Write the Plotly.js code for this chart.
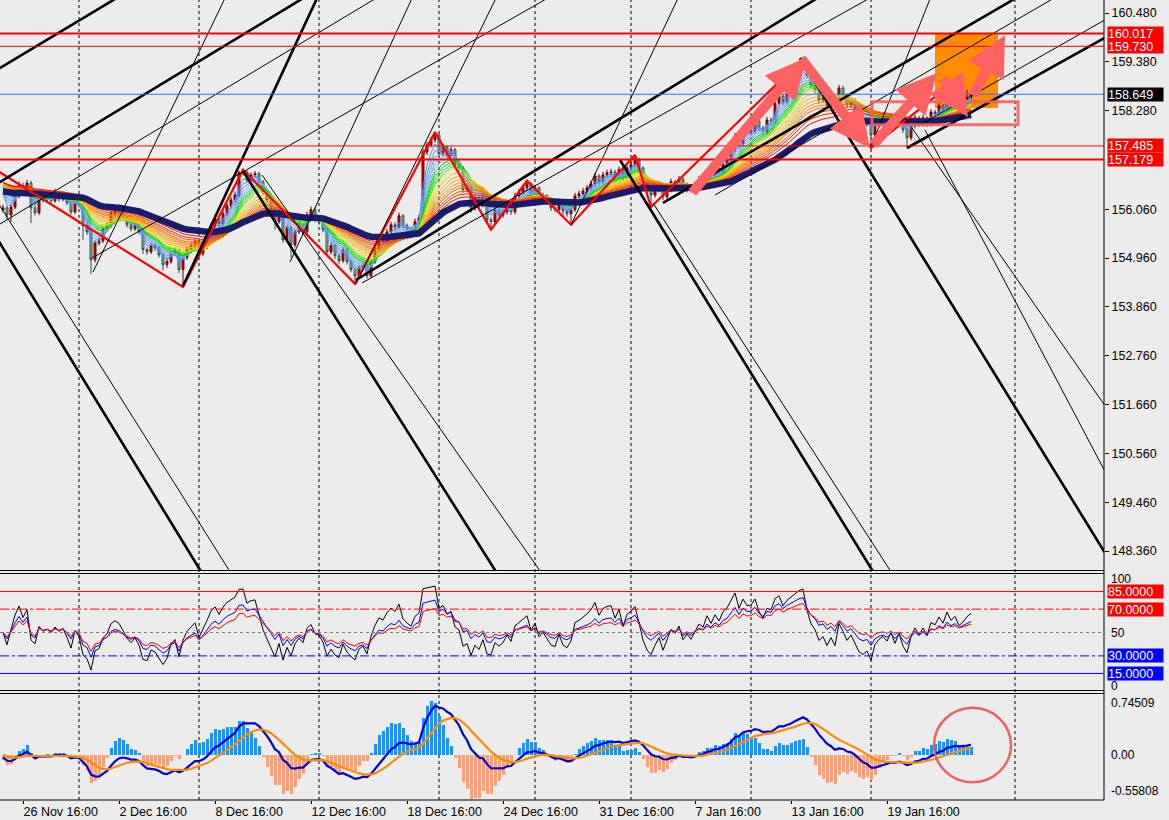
<!DOCTYPE html>
<html>
<head>
<meta charset="utf-8">
<script src="https://cdn.plot.ly/plotly-3.0.1.min.js"></script>
<style>
html,body{margin:0;padding:0;background:#ececec;}
#chart{width:1169px;height:820px;}
</style>
</head>
<body>
<div id="chart"></div>
<script>
// ---------------- DATA (H4 bars, index = bar number) ----------------
const open = [156.05,156.09,155.93,156.11,156.36,156.59,156.45,156.65,156.09,155.98,
156.38,156.27,156.32,156.25,156.36,156.29,156.34,156.20,156.00,156.27,
156.16,155.69,155.55,154.92,155.30,155.35,155.60,155.69,155.96,156.05,
156.00,155.87,155.71,155.62,155.69,155.55,155.15,155.10,155.24,155.19,
155.03,154.81,154.88,155.06,155.12,154.70,154.97,155.15,155.24,155.33,
155.06,155.21,155.42,155.69,155.84,155.73,155.96,156.14,156.27,156.38,
156.88,156.90,156.72,156.83,156.86,156.68,156.45,156.27,156.05,155.78,
156.00,155.37,155.64,155.26,155.55,155.69,155.55,155.93,156.05,155.82,
155.78,155.60,155.10,155.24,155.01,154.90,155.15,154.88,154.70,154.56,
154.74,154.79,154.56,154.88,155.15,155.37,155.33,155.55,155.71,155.66,
155.91,155.69,155.62,155.57,155.78,155.87,157.35,157.51,157.62,157.73,
157.31,157.46,157.28,157.40,157.06,156.99,156.50,156.56,156.09,156.32,
156.16,156.38,155.82,155.78,156.05,155.93,156.00,156.16,156.00,156.36,
156.45,156.54,156.63,156.38,156.54,156.27,156.36,156.23,156.09,156.05,
156.23,156.02,155.96,156.05,156.36,156.41,156.47,156.54,156.63,156.81,
156.68,156.83,156.88,156.90,156.79,156.95,156.77,156.99,157.06,157.17,
156.99,156.72,156.50,156.38,156.50,156.61,156.34,156.50,156.68,156.61,
156.74,156.50,156.59,156.50,156.61,156.74,156.70,156.90,156.81,156.97,
156.90,157.08,157.17,157.40,157.71,157.53,157.89,157.80,157.82,158.05,
157.89,157.80,158.07,158.05,158.45,158.61,158.48,158.70,158.86,159.08,
159.24,159.35,159.08,158.86,158.75,158.52,158.59,158.39,158.52,158.34,
158.79,158.63,158.41,158.52,158.30,158.07,157.98,158.03,157.73,157.98,
158.07,158.12,158.03,158.16,157.96,158.12,157.85,157.67,157.94,158.12,
157.98,158.12,157.98,158.25,158.21,158.39,158.30,158.57,158.45,158.54,
158.41,158.48,158.58];
const high = [156.16,156.14,156.17,156.42,156.68,156.66,156.72,156.70,156.18,156.44,
156.43,156.38,156.37,156.52,156.40,156.39,156.38,156.24,156.33,156.31,
156.20,155.75,155.60,155.36,155.42,155.66,155.76,156.02,156.12,156.10,
156.05,155.91,155.76,155.75,155.74,155.59,155.21,155.30,155.29,155.24,
155.08,154.95,155.12,155.20,155.17,155.03,155.22,155.31,155.40,155.38,
155.28,155.48,155.75,155.92,155.90,156.03,156.20,156.34,156.46,156.93,
156.95,156.93,156.89,156.92,156.90,156.72,156.50,156.31,156.10,156.07,
156.04,155.70,155.68,155.61,155.76,155.73,156.00,156.12,156.09,155.87,
155.83,155.65,155.31,155.28,155.06,155.21,155.19,154.93,154.75,154.81,
154.86,154.83,154.94,155.22,155.44,155.45,155.62,155.78,155.77,155.98,
155.95,155.74,155.67,155.85,155.94,157.42,157.58,157.69,157.80,157.77,
157.53,157.50,157.47,157.44,157.12,157.03,156.63,156.61,156.39,156.37,
156.45,156.42,155.88,156.12,156.10,156.07,156.23,156.20,156.43,156.52,
156.61,156.70,156.67,156.61,156.58,156.43,156.40,156.27,156.14,156.30,
156.27,156.07,156.12,156.43,156.48,156.54,156.61,156.70,156.88,156.85,
156.90,156.95,156.97,156.95,157.02,156.99,157.06,157.13,157.28,157.22,
157.03,156.76,156.55,156.57,156.68,156.65,156.57,156.75,156.72,156.81,
156.78,156.66,156.63,156.68,156.81,156.79,156.97,156.95,157.04,157.02,
157.15,157.24,157.47,157.78,157.76,157.96,157.95,157.89,158.12,158.09,
157.94,158.14,158.13,158.52,158.68,158.66,158.77,158.93,159.15,159.31,
159.46,159.40,159.12,158.92,158.80,158.66,158.64,158.59,158.57,158.86,
158.84,158.67,158.59,158.56,158.34,158.12,158.10,158.08,158.05,158.14,
158.19,158.16,158.23,158.20,158.19,158.16,157.90,158.01,158.19,158.16,
158.19,158.16,158.32,158.30,158.46,158.43,158.81,158.62,158.61,158.58,
158.55,158.75,158.72];
const low = [155.99,155.85,155.78,156.06,156.31,156.38,156.40,155.75,155.92,155.93,
156.21,156.22,156.20,156.21,156.23,156.24,156.15,155.94,155.96,156.10,
155.37,155.48,154.60,154.86,155.24,155.30,155.55,155.64,155.91,155.94,
155.81,155.65,155.56,155.57,155.49,155.05,155.03,155.05,155.12,154.97,
154.68,154.74,154.83,155.00,154.62,154.31,154.92,155.09,155.18,155.00,
155.00,155.16,155.37,155.64,155.66,155.68,155.90,156.08,156.21,156.32,
156.82,156.66,156.67,156.77,156.62,156.39,156.20,155.95,155.60,155.73,
155.30,155.32,154.97,155.20,155.50,155.49,155.50,155.88,155.76,155.71,
155.54,155.02,155.04,154.94,154.83,154.85,154.81,154.64,154.38,154.50,
154.68,154.50,154.51,154.83,155.10,155.26,155.28,155.50,155.58,155.61,
155.62,155.55,155.50,155.52,155.72,155.82,157.28,157.45,157.56,157.24,
157.26,157.21,157.23,156.99,156.92,156.43,156.44,155.98,156.03,156.09,
156.10,155.74,155.60,155.72,155.86,155.87,155.94,155.93,155.95,156.30,
156.39,156.48,156.31,156.32,156.20,156.21,156.17,156.02,155.99,155.99,
155.89,155.89,155.71,156.00,156.30,156.35,156.41,156.48,156.57,156.61,
156.62,156.77,156.82,156.72,156.73,156.70,156.71,156.93,157.00,156.92,
156.65,156.34,156.11,156.32,156.44,156.27,156.28,156.44,156.54,156.55,
156.43,156.44,156.43,156.44,156.55,156.63,156.64,156.74,156.75,156.83,
156.84,157.02,157.11,157.34,157.46,157.47,157.73,157.73,157.76,157.82,
157.73,157.74,157.99,157.99,158.39,158.41,158.42,158.64,158.80,159.02,
159.18,159.01,158.79,158.68,158.45,158.46,158.32,158.33,158.27,158.28,
158.56,158.34,158.35,158.23,158.00,157.91,157.92,157.44,157.67,157.92,
158.01,157.96,157.97,157.89,157.90,157.78,157.44,157.61,157.88,157.91,
157.92,157.91,157.92,158.14,158.15,158.23,158.24,158.38,158.39,158.34,
158.35,158.42,158.52];
const close = [156.09,155.93,156.11,156.36,156.59,156.45,156.65,156.09,155.98,156.38,
156.27,156.32,156.25,156.36,156.29,156.34,156.20,156.00,156.27,156.16,
155.69,155.55,154.92,155.30,155.35,155.60,155.69,155.96,156.05,156.00,
155.87,155.71,155.62,155.69,155.55,155.15,155.10,155.24,155.19,155.03,
154.81,154.88,155.06,155.12,154.70,154.97,155.15,155.24,155.33,155.06,
155.21,155.42,155.69,155.84,155.73,155.96,156.14,156.27,156.38,156.88,
156.90,156.72,156.83,156.86,156.68,156.45,156.27,156.05,155.78,156.00,
155.37,155.64,155.26,155.55,155.69,155.55,155.93,156.05,155.82,155.78,
155.60,155.10,155.24,155.01,154.90,155.15,154.88,154.70,154.56,154.74,
154.79,154.56,154.88,155.15,155.37,155.33,155.55,155.71,155.66,155.91,
155.69,155.62,155.57,155.78,155.87,157.35,157.51,157.62,157.73,157.31,
157.46,157.28,157.40,157.06,156.99,156.50,156.56,156.09,156.32,156.16,
156.38,155.82,155.78,156.05,155.93,156.00,156.16,156.00,156.36,156.45,
156.54,156.63,156.38,156.54,156.27,156.36,156.23,156.09,156.05,156.23,
156.02,155.96,156.05,156.36,156.41,156.47,156.54,156.63,156.81,156.68,
156.83,156.88,156.90,156.79,156.95,156.77,156.99,157.06,157.17,156.99,
156.72,156.50,156.38,156.50,156.61,156.34,156.50,156.68,156.61,156.74,
156.50,156.59,156.50,156.61,156.74,156.70,156.90,156.81,156.97,156.90,
157.08,157.17,157.40,157.71,157.53,157.89,157.80,157.82,158.05,157.89,
157.80,158.07,158.05,158.45,158.61,158.48,158.70,158.86,159.08,159.24,
159.35,159.08,158.86,158.75,158.52,158.59,158.39,158.52,158.34,158.79,
158.63,158.41,158.52,158.30,158.07,157.98,158.03,157.73,157.98,158.07,
158.12,158.03,158.16,157.96,158.12,157.85,157.67,157.94,158.12,157.98,
158.12,157.98,158.25,158.21,158.39,158.30,158.57,158.45,158.54,158.41,
158.48,158.58,158.65];

// Time axis labels (bar index where the label sits)
const timeTickBars = [5,29,53,77,101,125,149,173,197,221];
const timeTickText = ['26 Nov 16:00','2 Dec 16:00','8 Dec 16:00','12 Dec 16:00','18 Dec 16:00','24 Dec 16:00','31 Dec 16:00','7 Jan 16:00','13 Jan 16:00','19 Jan 16:00'];
const separatorBars = [19,49,79,109,133,157,187,217,253];

// Price scale labels
const priceTicks = [160.48,159.38,158.28,156.06,154.96,153.86,152.76,151.66,150.56,149.46,148.36];
const redLevels = [160.017,159.730,157.485,157.179];
const bidLevel = 158.649;

// Oscillator levels
const oscLevels = [85,70,50,30,15];

// Indicator parameters
const ribbonPeriods = [3,4,5,6,7,8,9,10,11,12,14,16,18,20,22,24,27,30,34];
const ribbonSeed = 156.70;
const navyPeriod = 45, navySeed = 156.48;
const rsiPeriods = [7,14,21];
const macdFast = 8, macdSlow = 17, macdSignal = 9, macdSeed = 156.40, histScale = 2.4;

// Zigzag pivots (bar, price)
const zzBars = [-3.25,45,60,88,108,122,131,142,158,162,200,217,236];
const zzPrices = [157.03,154.31,156.95,154.38,157.80,155.60,156.70,155.71,157.28,156.11,159.46,157.44,158.81];

// Trend lines [bar0, price0, bar1, price1]
const thickLines = [
 [-3.25,159.106,30.5,160.931],
 [-3.25,156.538,76.75,160.908],
 [88.25,154.465,205.25,160.908],
 [165,156.200,255,160.908],
 [226,157.439,276.75,159.985],
 [45,154.330,79,160.908],
 [-3.25,155.659,50.5,147.752],
 [60,156.921,124.25,147.752],
 [154.25,157.169,218.5,147.752],
 [199.25,159.466,276.75,148.135]
];
const thinLines = [
 [-3.25,155.592,95,160.908],
 [22.25,154.961,138,160.908],
 [89.75,154.398,218.5,160.908],
 [178,156.380,264.5,160.908],
 [229.25,157.957,276.75,160.390],
 [22.5,154.646,56,160.908],
 [71.75,154.871,102.75,160.908],
 [88.25,154.375,123.75,160.908],
 [142,155.704,169.25,160.908],
 [217,157.461,232.25,160.908],
 [-2,156.312,57.75,147.752],
 [64.75,156.831,135.5,147.752],
 [162.5,156.200,223,147.752],
 [225.5,158.115,276.75,151.469],
 [230.5,157.844,276.75,149.937]
];

// Arrows: tail (bar, price) -> head (bar, price)
const arrowTailBar = [172,199.25,217.25,234.75,242.25];
const arrowTailPrice = [156.40,159.49,157.48,159.04,158.59];
const arrowHeadBar = [200.75,216.75,233.5,241.25,250.5];
const arrowHeadPrice = [159.47,157.44,159.13,158.14,159.98];

// Zones
const orangeZone = [233,248.75,158.34,160.03];
const redBox = [217.25,253.75,157.96,158.48];
const macdCircle = [232.75,252,-0.339,0.575];

// ---------------- INDICATORS ----------------
function ema(src, n, seed){ const a = 2/(n+1); let e = seed; return src.map(v => (e = e + a*(v - e))); }
function rsi(src, n){
  let ag = 0.05, al = 0.05; const out = [50];
  for (let i = 1; i < src.length; i++){
    const ch = src[i] - src[i-1];
    ag = (ag*(n-1) + Math.max(ch,0))/n;
    al = (al*(n-1) + Math.max(-ch,0))/n;
    out.push(100 - 100/(1 + ag/al));
  }
  return out;
}
const bars = close.map((_, i) => i);

const ribbonColors = ['#4a8cff','#5595ff','#609dff','#6ba5ff','#77adff',
 '#00d000','#10dc10','#20e820','#30f030',
 '#ffd400','#ffc400','#ffb400','#ffa400','#ff9400','#ff8400',
 '#ff6a00','#ff5000','#ff3000','#ff1000'];

const traces = [];
ribbonPeriods.forEach((n, k) => traces.push({type:'scatter', mode:'lines', x:bars, y:ema(close, n, ribbonSeed),
  line:{color:ribbonColors[k], width:1}, xaxis:'x', yaxis:'y', hoverinfo:'skip'}));
traces.push({type:'scatter', mode:'lines', x:bars, y:ema(close, navyPeriod, navySeed),
  line:{color:'#1b1b6b', width:6.5}, xaxis:'x', yaxis:'y', hoverinfo:'skip'});
traces.push({type:'candlestick', x:bars, open:open, high:high, low:low, close:close,
  increasing:{line:{color:'#6a0000', width:1}, fillcolor:'#d40000'},
  decreasing:{line:{color:'#2f4f4f', width:1}, fillcolor:'#96c596'},
  whiskerwidth:0, xaxis:'x', yaxis:'y', hoverinfo:'skip'});
traces.push({type:'scatter', mode:'lines', x:zzBars, y:zzPrices, line:{color:'#ff0000', width:2.2}, xaxis:'x', yaxis:'y', hoverinfo:'skip'});
function segs(list){ const x=[], y=[]; list.forEach(s => { x.push(s[0], s[2], null); y.push(s[1], s[3], null); }); return {x, y}; }
const th = segs(thinLines), tk = segs(thickLines);
traces.push({type:'scatter', mode:'lines', x:th.x, y:th.y, line:{color:'#000', width:1}, xaxis:'x', yaxis:'y', hoverinfo:'skip'});
traces.push({type:'scatter', mode:'lines', x:tk.x, y:tk.y, line:{color:'#000', width:2.6}, xaxis:'x', yaxis:'y', hoverinfo:'skip'});

// oscillator
const rsiColors = ['#000000','#0000ff','#ff0000'];
rsiPeriods.forEach((n, k) => traces.push({type:'scatter', mode:'lines', x:bars, y:rsi(close, n),
  line:{color:rsiColors[k], width:1}, xaxis:'x', yaxis:'y2', hoverinfo:'skip'}));

// MACD
const fastE = ema(close, macdFast, macdSeed), slowE = ema(close, macdSlow, macdSeed);
const macd = fastE.map((v, i) => v - slowE[i]);
const sig = ema(macd, macdSignal, 0);
const hist = macd.map((v, i) => histScale*(v - sig[i]));
traces.push({type:'bar', x:bars, y:hist, width:0.75, marker:{color:hist.map(v => v >= 0 ? '#1e90ff' : '#ffa07a'), line:{width:0}},
  xaxis:'x', yaxis:'y3', hoverinfo:'skip'});
traces.push({type:'scatter', mode:'lines', x:bars, y:macd, line:{color:'#0000cd', width:2.2}, xaxis:'x', yaxis:'y3', hoverinfo:'skip'});
traces.push({type:'scatter', mode:'lines', x:bars, y:sig, line:{color:'#ff8c00', width:2.2}, xaxis:'x', yaxis:'y3', hoverinfo:'skip'});

// ---------------- SHAPES ----------------
const shapes = [];
shapes.push({type:'rect', xref:'x', yref:'y', x0:orangeZone[0], x1:orangeZone[1], y0:orangeZone[2], y1:orangeZone[3],
  fillcolor:'#ff8c00', line:{width:0}, layer:'below'});
separatorBars.forEach(b => shapes.push({type:'line', xref:'x', yref:'paper', x0:b, x1:b, y0:0, y1:1,
  line:{color:'#000', width:1, dash:'3px,3px'}, layer:'below'}));
const redW = [2,1,1,2];
redLevels.forEach((p, k) => shapes.push({type:'line', xref:'paper', yref:'y', x0:0, x1:1, y0:p, y1:p, line:{color:'#ff0000', width:redW[k]}}));
shapes.push({type:'line', xref:'paper', yref:'y', x0:0, x1:1, y0:bidLevel, y1:bidLevel, line:{color:'#3b6cf0', width:1}});
shapes.push({type:'rect', xref:'x', yref:'y', x0:redBox[0], x1:redBox[1], y0:redBox[2], y1:redBox[3],
  line:{color:'rgba(245,95,95,0.9)', width:3}, fillcolor:'rgba(0,0,0,0)'});
const oscStyle = [
 {color:'#ff0000', dash:'solid'}, {color:'#ff0000', dash:'dashdot'}, {color:'#7a7a7a', dash:'3px,3px'},
 {color:'#0000ff', dash:'dashdot'}, {color:'#0000ff', dash:'solid'}];
oscLevels.forEach((v, k) => shapes.push({type:'line', xref:'paper', yref:'y2', x0:0, x1:1, y0:v, y1:v,
  line:{color:oscStyle[k].color, width:1, dash:oscStyle[k].dash}}));
shapes.push({type:'circle', xref:'x', yref:'y3', x0:macdCircle[0], x1:macdCircle[1], y0:macdCircle[2], y1:macdCircle[3],
  line:{color:'rgba(235,85,85,0.9)', width:2.5}});
// frame lines
[0.286875,0.283125,0.136875,0.133125].forEach(p => shapes.push({type:'line', xref:'paper', yref:'paper', x0:0, x1:1, y0:p, y1:p, line:{color:'#000', width:1}}));
shapes.push({type:'line', xref:'paper', yref:'paper', x0:1, x1:1, y0:0, y1:1, line:{color:'#000', width:1}});
shapes.push({type:'line', xref:'paper', yref:'paper', x0:0, x1:1, y0:0, y1:0, line:{color:'#000', width:1}});

// ---------------- ANNOTATIONS ----------------
const FONT = 'Liberation Sans, Arial, sans-serif';
const ann = [];
for (let k = 0; k < arrowTailBar.length; k++){
  ann.push({x:arrowHeadBar[k], y:arrowHeadPrice[k], ax:arrowTailBar[k], ay:arrowTailPrice[k], xref:'x', yref:'y', axref:'x', ayref:'y',
    text:'', showarrow:true, arrowhead:2, arrowsize:0.8, arrowwidth:10, arrowcolor:'#ff6262', standoff:0, startstandoff:0});
}
function tag(text, y, yref, bg, fg){
  return {text:text, x:1, xref:'paper', xanchor:'left', xshift:3, y:y, yref:yref, yanchor:'middle', showarrow:false,
    bgcolor:bg, font:{family:FONT, size:12.5, color:fg}, borderpad:0, width:55, height:13, align:'left'};
}
redLevels.forEach(p => ann.push(tag(p.toFixed(3), p, 'y', '#ff0000', '#ffffff')));
ann.push(tag(bidLevel.toFixed(3), bidLevel, 'y', '#000000', '#ffffff'));
ann.push(tag('85.0000', 85, 'y2', '#ff0000', '#ffffff'));
ann.push(tag('70.0000', 70, 'y2', '#ff0000', '#ffffff'));
ann.push(tag('30.0000', 30, 'y2', '#0000ff', '#ffffff'));
ann.push(tag('15.0000', 15, 'y2', '#0000ff', '#ffffff'));
function plain(text, y, yref, anchor, ys){
  return {text:text, x:1, xref:'paper', xanchor:'left', xshift:5, y:y, yref:yref, yanchor:anchor, yshift:ys || 0, showarrow:false,
    font:{family:FONT, size:12, color:'#000'}};
}
ann.push(plain('100', 100, 'y2', 'top', 4));
ann.push(plain('50', 50, 'y2', 'middle'));
ann.push(plain('0', 0, 'y2', 'bottom', -4));
ann.push(plain('0.74509', 0.74509, 'y3', 'top'));
ann.push(plain('0.00', 0, 'y3', 'middle'));
ann.push(plain('-0.55808', -0.55808, 'y3', 'bottom'));

const layout = {
  width:1169, height:820, margin:{l:0, r:65, t:0, b:20},
  paper_bgcolor:'#ececec', plot_bgcolor:'#ececec', showlegend:false,
  font:{family:FONT, size:12, color:'#000'},
  xaxis:{range:[-0.75,275.25], anchor:'y3', showgrid:false, zeroline:false, showline:false,
    tickvals:timeTickBars, ticktext:timeTickText, ticklabelposition:'outside right', ticks:'outside', ticklen:3, tickcolor:'#000',
    tickfont:{family:FONT, size:12.5, color:'#000'}, rangeslider:{visible:false}, fixedrange:true},
  yaxis:{domain:[0.2875,1], range:[147.932,160.773], side:'right', anchor:'x', showgrid:false, zeroline:false,
    tickvals:priceTicks, ticktext:priceTicks.map(v => v.toFixed(3)), ticks:'outside', ticklen:4, tickcolor:'#000',
    tickfont:{family:FONT, size:12.5, color:'#000'}, fixedrange:true},
  yaxis2:{domain:[0.13625,0.2825], range:[0,100], side:'right', anchor:'x', showgrid:false, zeroline:false, showticklabels:false, fixedrange:true},
  yaxis3:{domain:[0,0.1325], range:[-0.55808,0.74509], side:'right', anchor:'x', showgrid:false, zeroline:false, showticklabels:false, fixedrange:true},
  shapes:shapes, annotations:ann, bargap:0
};
Plotly.newPlot('chart', traces, layout, {displayModeBar:false, staticPlot:true});
</script>
</body>
</html>
